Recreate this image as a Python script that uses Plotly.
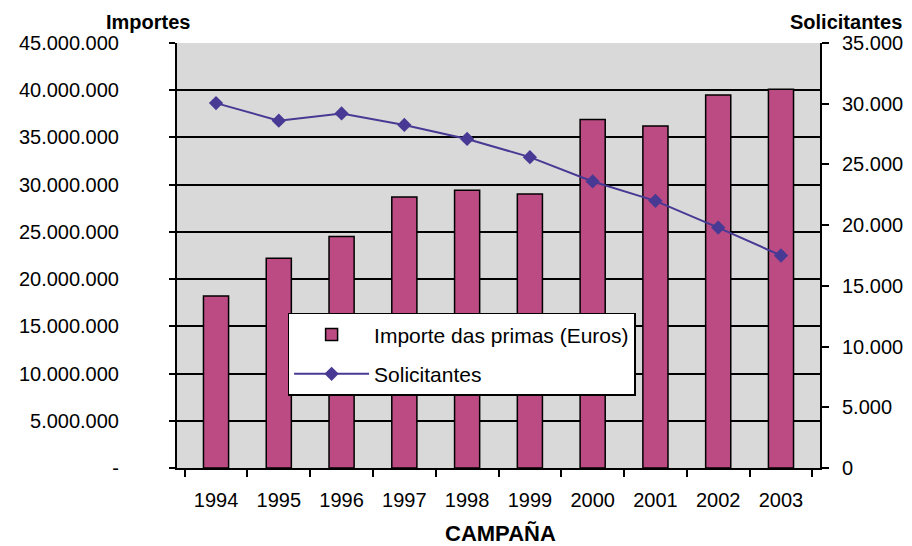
import plotly.graph_objects as go

# Campaign years
campanas = ['1994', '1995', '1996', '1997', '1998', '1999', '2000', '2001', '2002', '2003']

# Importe das primas (Euros)
importes = [18200000, 22200000, 24500000, 28700000, 29400000, 29000000,
            36900000, 36200000, 39500000, 40100000]

# Solicitantes
solicitantes = [30050, 28600, 29200, 28250, 27100, 25600, 23600, 22000, 19800, 17500]

# Axis ticks
left_tickvals = [0, 5000000, 10000000, 15000000, 20000000, 25000000,
                 30000000, 35000000, 40000000, 45000000]
left_ticktext = ['-', '5.000.000', '10.000.000', '15.000.000', '20.000.000',
                 '25.000.000', '30.000.000', '35.000.000', '40.000.000', '45.000.000']
right_tickvals = [0, 5000, 10000, 15000, 20000, 25000, 30000, 35000]
right_ticktext = ['0', '5.000', '10.000', '15.000', '20.000', '25.000', '30.000', '35.000']

FONT = 'Liberation Sans, Arial, sans-serif'

fig = go.Figure()

fig.add_trace(go.Bar(
    x=campanas, y=importes,
    name='Importe das primas (Euros)',
    legendgroup='a',
    marker=dict(color='#BB4B82', line=dict(color='black', width=1.5)),
    yaxis='y'
))

fig.add_trace(go.Scatter(
    x=campanas, y=solicitantes,
    name='Solicitantes',
    legendgroup='b',
    mode='lines+markers',
    line=dict(color='#483A94', width=2),
    marker=dict(symbol='diamond', size=11, color='#483A94'),
    yaxis='y2'
))

# page body has an 8px margin, so the figure is 8px smaller each way
fig.update_layout(
    width=904, height=538,
    margin=dict(l=169, r=92, t=35, b=78),
    paper_bgcolor='white',
    plot_bgcolor='#D9D9D9',
    font=dict(family=FONT, size=20, color='black'),
    bargap=0.6,
    xaxis=dict(
        type='category',
        automargin=False,
        tickson='boundaries',
        ticks='outside', ticklen=7, tickwidth=2, tickcolor='black',
        showline=True, linecolor='black', linewidth=2,
        showgrid=False,
        tickfont=dict(size=20),
        ticklabelstandoff=13,
    ),
    yaxis=dict(
        range=[0, 45000000],
        automargin=False,
        tickvals=left_tickvals, ticktext=left_ticktext,
        ticks='outside', ticklen=6, tickwidth=2, tickcolor='black',
        showline=True, linecolor='black', linewidth=2,
        showgrid=True, gridcolor='black', gridwidth=2,
        zeroline=False,
        tickfont=dict(size=20),
        ticklabelstandoff=46,
    ),
    yaxis2=dict(
        range=[0, 35000],
        automargin=False,
        overlaying='y', side='right',
        tickvals=right_tickvals, ticktext=right_ticktext,
        ticks='outside', ticklen=7, tickwidth=2, tickcolor='black',
        showline=True, linecolor='black', linewidth=2,
        showgrid=False, zeroline=False,
        tickfont=dict(size=20),
        ticklabelstandoff=9,
    ),
    legend=dict(
        x=0.172, y=0.365, xanchor='left', yanchor='top',
        bgcolor='white', bordercolor='black', borderwidth=1.5,
        font=dict(size=21),
        itemwidth=75,
        traceorder='grouped',
        tracegroupgap=9,
    ),
)

# axis titles as annotations
fig.add_annotation(text='<b>Importes</b>', xref='paper', yref='paper',
                   x=0.023, y=1.0, xanchor='right', yanchor='bottom',
                   yshift=8, showarrow=False, font=dict(size=20))
fig.add_annotation(text='<b>Solicitantes</b>', xref='paper', yref='paper',
                   x=1.131, y=1.0, xanchor='right', yanchor='bottom',
                   yshift=8, showarrow=False, font=dict(size=20))
fig.add_annotation(text='<b>CAMPAÑA</b>', xref='paper', yref='paper',
                   x=0.503, y=0, xanchor='center', yanchor='middle',
                   yshift=-65, showarrow=False, font=dict(size=22))

fig.write_html('out.html')
